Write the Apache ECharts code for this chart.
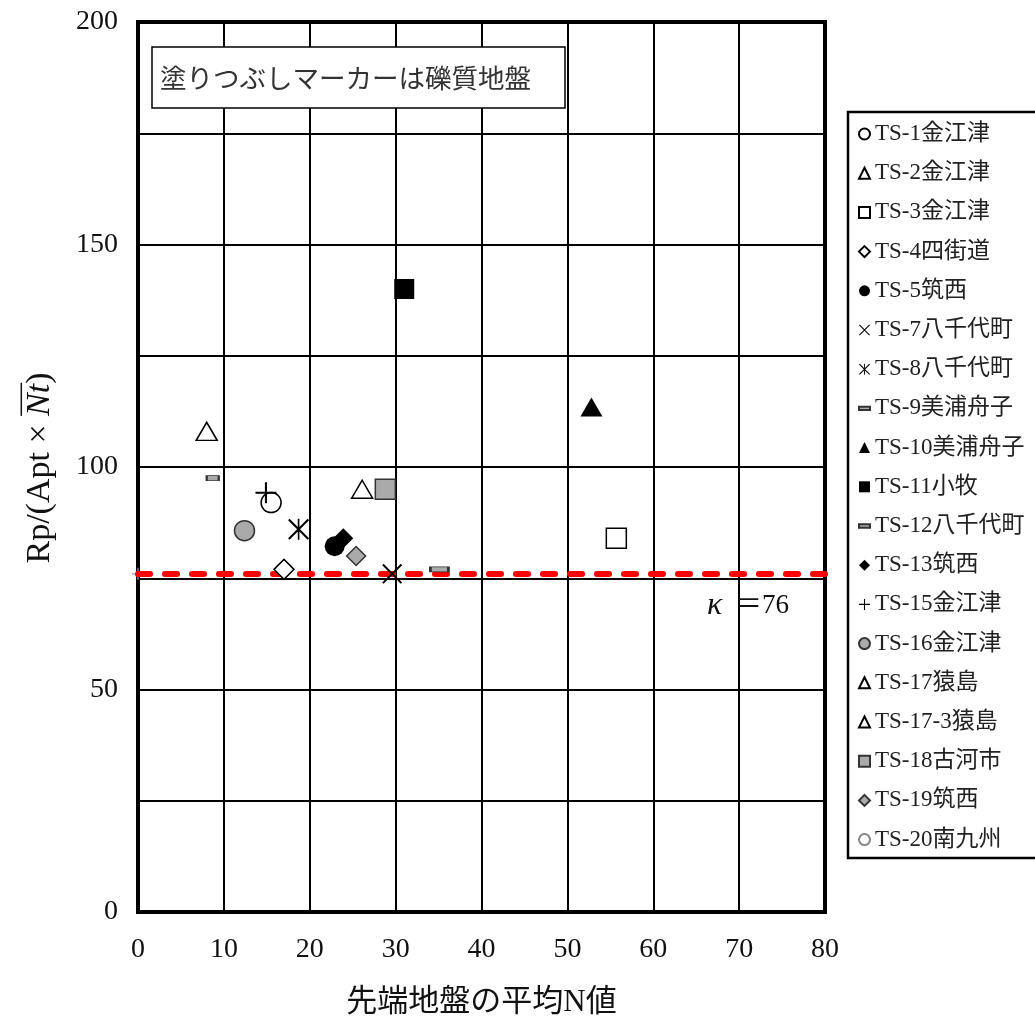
<!DOCTYPE html>
<html><head><meta charset="utf-8">
<script src="https://cdn.jsdelivr.net/npm/echarts@6/dist/echarts.min.js"></script>
<style>html,body{margin:0;padding:0;background:#fff}#c{width:1035px;height:1025px}</style>
</head><body><div id="c"></div>
<script>
// ---- data ----
const xTicks = [0, 10, 20, 30, 40, 50, 60, 70, 80];
const yTicks = [0, 50, 100, 150, 200];
const kappa = 76;
const seriesNames = ['TS-1金江津','TS-2金江津','TS-3金江津','TS-4四街道','TS-5筑西','TS-7八千代町','TS-8八千代町','TS-9美浦舟子','TS-10美浦舟子','TS-11小牧','TS-12八千代町','TS-13筑西','TS-15金江津','TS-16金江津','TS-17猿島','TS-17-3猿島','TS-18古河市','TS-19筑西','TS-20南九州'];
const ts1 = [[15.5, 92]];
const ts2 = [[8.0, 108]];
const ts3 = [[55.7, 84]];
const ts4 = [[17.0, 77]];
const ts5 = [[22.9, 82.2]];
const ts7 = [[29.6, 76]];
const ts8 = [[18.7, 86]];
const ts9 = [[8.7, 97.5]];
const ts10 = [[52.8, 113.5]];
const ts11 = [[31.0, 140]];
const ts12 = [[35.1, 77]];
const ts13 = [[23.9, 84]];
const ts15 = [[14.9, 94.2]];
const ts16 = [[12.4, 85.7]];
const ts17 = [[26.1, 95]];
const ts17_3 = [];
const ts18 = [[28.8, 95]];
const ts19 = [[25.4, 80]];
const ts20 = [];
const seriesData = [ts1, ts2, ts3, ts4, ts5, ts7, ts8, ts9, ts10, ts11, ts12, ts13, ts15, ts16, ts17, ts17_3, ts18, ts19, ts20];

// ---- styles ----
const SERIF = "'Liberation Serif', 'Noto Sans CJK JP', serif";
const PLUS = 'path://M0,4.5 H10 V5.5 H0 Z M4.5,0 H5.5 V10 H4.5 Z';
const CROSS = 'path://M0,0.7 L0.7,0 L10,9.3 L9.3,10 Z M9.3,0 L10,0.7 L0.7,10 L0,9.3 Z';
const STAR = 'path://M0,0.7 L0.7,0 L10,9.3 L9.3,10 Z M9.3,0 L10,0.7 L0.7,10 L0,9.3 Z M4.6,0 H5.4 V10 H4.6 Z';
const DASH = 'path://M0,0 H10 V3 H0 Z';
const open = {color: '#fff', borderColor: '#000', borderWidth: 1.5, opacity: 1};
const filled = {color: '#000', borderColor: '#000', borderWidth: 0, opacity: 1};
const gray = {color: '#aaa', borderColor: '#333', borderWidth: 1.5, opacity: 1};
const line = {color: '#000', borderWidth: 0, opacity: 1};
const markerStyles = [
  {symbol: 'circle', size: 20, style: open},
  {symbol: 'triangle', size: [21, 18], style: open},
  {symbol: 'rect', size: 20, style: open},
  {symbol: 'diamond', size: [20, 20], style: open},
  {symbol: 'circle', size: 20, style: filled},
  {symbol: CROSS, size: 20, style: line},
  {symbol: STAR, size: 21, style: line},
  {symbol: 'rect', size: [12, 5], style: gray, icon: DASH},
  {symbol: 'triangle', size: [22, 19], style: filled},
  {symbol: 'rect', size: 20, style: filled},
  {symbol: 'rect', size: [18, 5], style: gray, icon: DASH},
  {symbol: 'diamond', size: [20, 20], style: filled},
  {symbol: PLUS, size: 21, style: line},
  {symbol: 'circle', size: 20, style: gray},
  {symbol: 'triangle', size: [21, 18], style: open},
  {symbol: 'triangle', size: [21, 18], style: open},
  {symbol: 'rect', size: 20, style: gray},
  {symbol: 'diamond', size: [19, 19], style: gray},
  {symbol: 'circle', size: 20, style: {color: '#fff', borderColor: '#888', borderWidth: 1.5, opacity: 1}}
];

const series = seriesNames.map((name, i) => ({
  name: name,
  type: 'scatter',
  data: seriesData[i],
  symbol: markerStyles[i].symbol,
  symbolSize: markerStyles[i].size,
  itemStyle: markerStyles[i].style,
  z: 5
}));
series.push({
  name: 'kappa',
  type: 'line',
  data: [{value: [0, kappa], symbol: PLUS, symbolSize: 12, itemStyle: {color: '#9a8fd0'}}],
  showSymbol: true,
  z: 4,
  markLine: {
    silent: true,
    symbol: ['none', 'none'],
    data: [{yAxis: kappa}],
    lineStyle: {color: '#ff0000', width: 6, type: [12, 15], cap: 'round'},
    label: {show: true, position: 'insideEndBottom', formatter: '{k|κ} ＝' + kappa,
      fontFamily: SERIF, fontSize: 27, color: '#111', distance: [36, 16],
      rich: {k: {fontFamily: SERIF, fontSize: 32, fontStyle: 'italic', color: '#111', padding: [0, 6, 0, 0]}}}
  }
});

const chart = echarts.init(document.getElementById('c'), null, {renderer: 'canvas'});

// y title with overline
function measure(txt, font) {
  const cv = document.createElement('canvas').getContext('2d');
  cv.font = font; return cv.measureText(txt).width;
}
const yFont = 34;
const partA = 'Rp/(Apt × ', partB = 'Nt', partC = ')';
const fA = yFont + 'px ' + SERIF, fB = 'italic ' + yFont + 'px ' + SERIF;
const wA = measure(partA, fA), wB = measure(partB, fB), wC = measure(partC, fA);
const wT = wA + wB + wC;
const x0 = -wT / 2;

chart.setOption({
  animation: false,
  backgroundColor: '#fff',
  grid: {left: 138, top: 22, right: 210, bottom: 113, show: true, borderColor: '#000', borderWidth: 4, backgroundColor: '#fff'},
  xAxis: {
    type: 'value', min: xTicks[0], max: xTicks[xTicks.length - 1], interval: 10,
    axisLine: {show: false}, axisTick: {show: false},
    splitLine: {show: true, lineStyle: {color: '#000', width: 2}},
    axisLabel: {fontFamily: SERIF, fontSize: 28, color: '#111', margin: 24},
    name: '先端地盤の平均N値', nameLocation: 'middle', nameGap: 75,
    nameTextStyle: {fontFamily: SERIF, fontSize: 31, color: '#111'}
  },
  yAxis: {
    type: 'value', min: 0, max: 200, interval: 25,
    axisLine: {show: false}, axisTick: {show: false},
    splitLine: {show: true, lineStyle: {color: '#000', width: 2}},
    axisLabel: {fontFamily: SERIF, fontSize: 28, color: '#111', margin: 20,
      formatter: v => (yTicks.indexOf(v) >= 0 ? String(v) : '')}
  },
  legend: {
    orient: 'vertical', left: 853, top: 117,
    itemWidth: 11, itemHeight: 11, itemGap: 15.2,
    textStyle: {fontFamily: SERIF, fontSize: 23, color: '#222', lineHeight: 24},
    data: seriesNames.map((n, i) => markerStyles[i].icon ? {name: n, icon: markerStyles[i].icon} : {name: n}),
    z: 20
  },
  graphic: [
    {type: 'rect', z: 10, shape: {x: 848, y: 112, width: 200, height: 746},
      style: {fill: '#fff', stroke: '#000', lineWidth: 2.5}},
    {type: 'rect', z: 100, shape: {x: 152, y: 47, width: 413, height: 61},
      style: {fill: '#fff', stroke: '#000', lineWidth: 1.5}},
    {type: 'text', z: 101, x: 160, y: 78,
      style: {text: '塗りつぶしマーカーは礫質地盤', font: "26.5px 'Noto Sans CJK JP'", fill: '#333', textVerticalAlign: 'middle'}},
    {type: 'group', z: 100, x: 40, y: 468, rotation: Math.PI / 2, children: [
      {type: 'text', x: x0, y: 0, style: {text: partA, font: fA, fill: '#111', textVerticalAlign: 'middle'}},
      {type: 'text', x: x0 + wA, y: 0, style: {text: partB, font: fB, fill: '#111', textVerticalAlign: 'middle'}},
      {type: 'text', x: x0 + wA + wB, y: 0, style: {text: partC, font: fA, fill: '#111', textVerticalAlign: 'middle'}},
      {type: 'line', shape: {x1: x0 + wA, y1: -yFont * 0.55, x2: x0 + wA + wB + 1, y2: -yFont * 0.55}, style: {stroke: '#111', lineWidth: 1.5}}
    ]}
  ],
  series: series
});
</script></body></html>
